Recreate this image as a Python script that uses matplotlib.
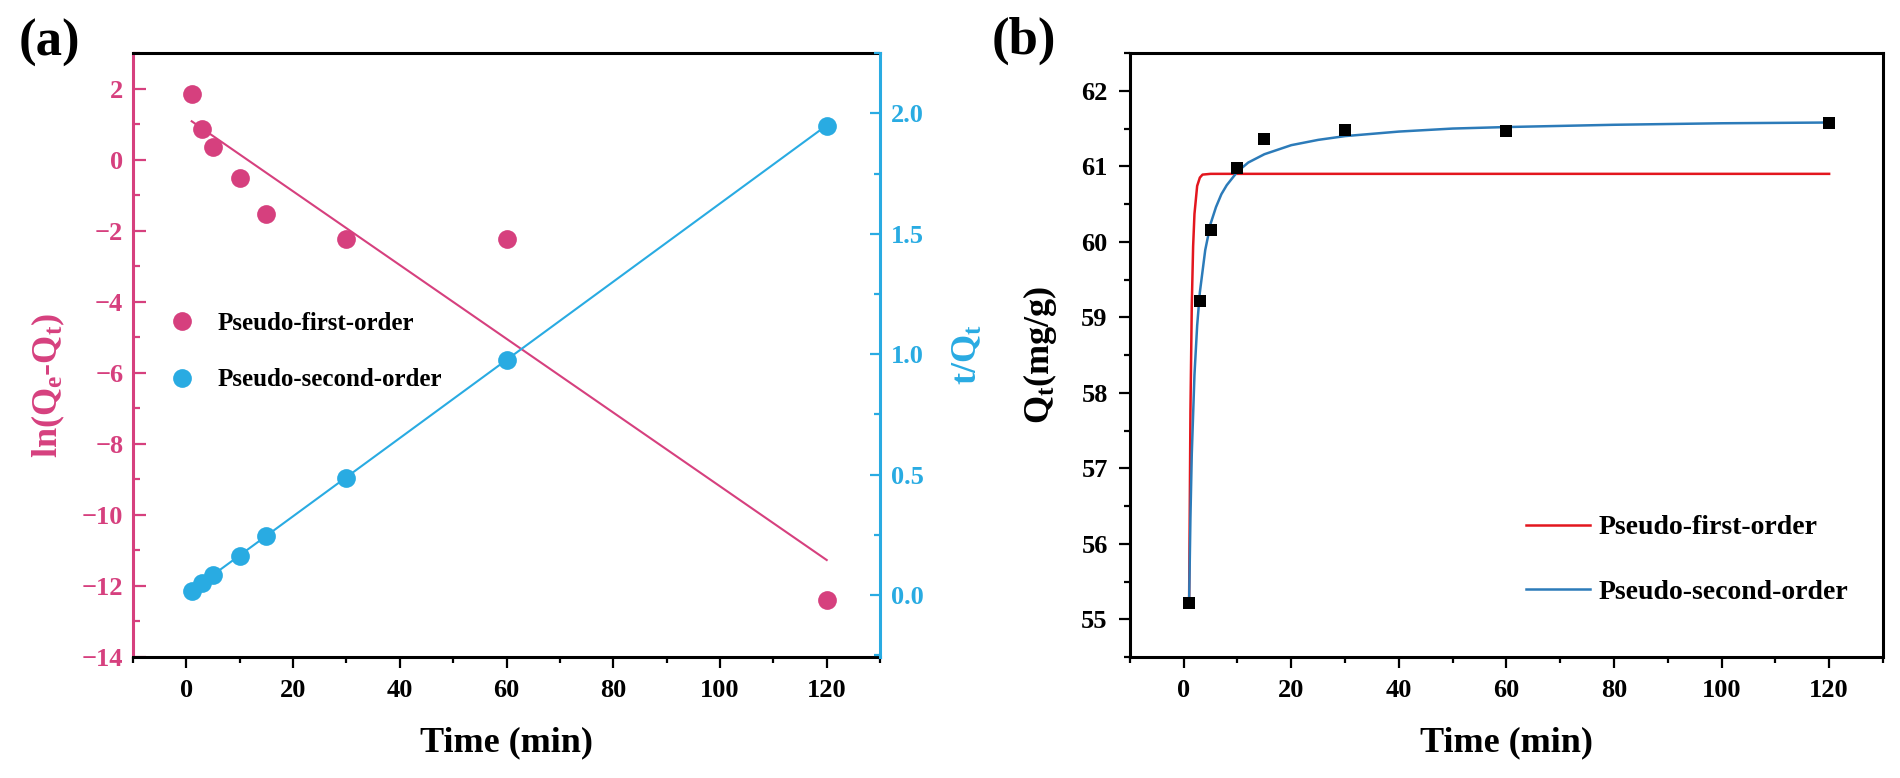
import numpy as np
import matplotlib
matplotlib.use("Agg")
import matplotlib.pyplot as plt
from matplotlib.ticker import MultipleLocator
from matplotlib.lines import Line2D

plt.rcParams['font.family'] = ['Liberation Serif', 'DejaVu Serif']
plt.rcParams['font.weight'] = 'bold'
plt.rcParams['mathtext.fontset'] = 'custom'
plt.rcParams['mathtext.rm'] = 'Liberation Serif:bold'
plt.rcParams['mathtext.it'] = 'Liberation Serif:bold'
plt.rcParams['mathtext.bf'] = 'Liberation Serif:bold'

# sampling times (min)
t = [1, 3, 5, 10, 15, 30, 60, 120]

# (a) linearised kinetics
ln_qe_qt = [1.84, 0.85, 0.35, -0.52, -1.53, -2.22, -2.22, -12.4]
t_over_qt = [0.018, 0.051, 0.083, 0.164, 0.245, 0.488, 0.976, 1.949]
# fitted straight lines, end points
fit1_t = [1, 120]
fit1_y = [1.08, -11.27]
fit2_t = [1, 120]
fit2_y = [0.019, 1.95]

# (b) uptake vs time
qt = [55.22, 59.22, 60.15, 60.98, 61.36, 61.48, 61.47, 61.58]
pfo_t = [1, 1.25, 1.5, 1.75, 2, 2.5, 3, 3.5, 5, 120]
pfo_q = [55.2, 57.75, 59.16, 59.94, 60.37, 60.74, 60.85, 60.89, 60.9, 60.9]
pso_t = [1, 1.25, 1.5, 2, 2.5, 3, 4, 5, 6, 7, 8, 10, 12, 15, 20, 25, 30,
         40, 50, 60, 80, 100, 120]
pso_q = [55.2, 56.35, 57.19, 58.24, 58.89, 59.33, 59.89, 60.24, 60.46, 60.63,
         60.75, 60.93, 61.05, 61.16, 61.28, 61.35, 61.40, 61.46, 61.50, 61.52,
         61.55, 61.57, 61.58]

pink = '#D6407E'
cyan = '#29ABE2'
red = '#E3161E'
steel = '#2C7BB9'

fig = plt.figure(figsize=(19, 7.78), dpi=100)
ax = fig.add_axes([0.0700, 0.1555, 0.3932, 0.7763])
ax_r = ax.twinx()
bx = fig.add_axes([0.5947, 0.1555, 0.3963, 0.7763])

# ---- panel (a)
ax.scatter(t, ln_qe_qt, s=13.5**2, color=pink, zorder=3, linewidths=0)
ax.plot(fit1_t, fit1_y, color=pink, lw=1.5, zorder=2)
ax_r.scatter(t, t_over_qt, s=13.5**2, color=cyan, zorder=3, linewidths=0)
ax_r.plot(fit2_t, fit2_y, color=cyan, lw=1.5, zorder=2)

ax.set_xlim(-10, 130)
ax.set_ylim(-14, 3)
ax_r.set_ylim(-0.257, 2.25)
ax.xaxis.set_major_locator(MultipleLocator(20))
ax.xaxis.set_minor_locator(MultipleLocator(10))
ax.yaxis.set_major_locator(MultipleLocator(2))
ax.yaxis.set_minor_locator(MultipleLocator(1))
ax_r.yaxis.set_major_locator(MultipleLocator(0.5))
ax_r.yaxis.set_minor_locator(MultipleLocator(0.25))
ax.set_xticks([0, 20, 40, 60, 80, 100, 120])

for s in ['top', 'bottom']:
    ax.spines[s].set_linewidth(2.2)
    ax_r.spines[s].set_visible(False)
ax.spines['left'].set_color(pink)
ax.spines['left'].set_linewidth(2.2)
ax.spines['right'].set_visible(False)
ax_r.spines['left'].set_visible(False)
ax_r.spines['right'].set_color(cyan)
ax_r.spines['right'].set_linewidth(2.2)

ax.tick_params(axis='x', which='major', direction='out', length=8, width=1.6,
               labelsize=19, pad=8)
ax.tick_params(axis='x', which='minor', direction='out', length=4, width=1.6)
ax.tick_params(axis='y', which='major', direction='in', length=9, width=1.6,
               color=pink, labelcolor=pink, labelsize=19, pad=7)
ax.tick_params(axis='y', which='minor', direction='in', length=5, width=1.6,
               color=pink)
ax_r.tick_params(axis='y', which='major', direction='in', length=7, width=1.6,
                 color=cyan, labelcolor=cyan, labelsize=19, pad=8)
ax_r.tick_params(axis='y', which='minor', direction='in', length=4, width=1.6,
                 color=cyan)

ax.set_xlabel('Time (min)', fontsize=26, fontweight='bold')
ax.xaxis.set_label_coords(0.5, -0.115)
ax.set_ylabel('ln(Q$_{\\rm e}$-Q$_{\\rm t}$)', fontsize=26, color=pink,
              fontweight='bold')
ax.yaxis.set_label_coords(-0.088, 0.45)
ax_r.set_ylabel('t/Q$_{\\rm t}$', fontsize=26, color=cyan, fontweight='bold')
ax_r.yaxis.set_label_coords(1.096, 0.5)

handles_a = [Line2D([], [], ls='none', marker='o', ms=13.5, mec='none',
                    color=pink),
             Line2D([], [], ls='none', marker='o', ms=13.5, mec='none',
                    color=cyan)]
ax.legend(handles_a, ['Pseudo-first-order', 'Pseudo-second-order'],
          loc='center left', bbox_to_anchor=(0.049, 0.506), frameon=False,
          fontsize=18, handlelength=1.0, handletextpad=0.9, labelspacing=1.35,
          borderpad=0, borderaxespad=0)

# ---- panel (b)
bx.plot(pfo_t, pfo_q, color=red, lw=1.8, zorder=2, label='Pseudo-first-order')
bx.plot(pso_t, pso_q, color=steel, lw=1.8, zorder=2,
        label='Pseudo-second-order')
bx.scatter(t, qt, marker='s', s=9**2, color='black', zorder=3, linewidths=0)

bx.set_xlim(-10, 130)
bx.set_ylim(54.5, 62.5)
bx.xaxis.set_major_locator(MultipleLocator(20))
bx.xaxis.set_minor_locator(MultipleLocator(10))
bx.yaxis.set_major_locator(MultipleLocator(1))
bx.yaxis.set_minor_locator(MultipleLocator(0.5))
bx.set_xticks([0, 20, 40, 60, 80, 100, 120])
for s in bx.spines.values():
    s.set_linewidth(2.2)
bx.tick_params(axis='both', which='major', direction='out', length=8,
               width=1.6, labelsize=19, pad=8)
bx.tick_params(axis='both', which='minor', direction='out', length=4,
               width=1.6)
bx.set_xlabel('Time (min)', fontsize=26, fontweight='bold')
bx.xaxis.set_label_coords(0.5, -0.115)
bx.set_ylabel('Q$_{\\rm t}$(mg/g)', fontsize=26, fontweight='bold')
bx.yaxis.set_label_coords(-0.094, 0.5)
bx.legend(loc='center left', bbox_to_anchor=(0.526, 0.161), frameon=False,
          fontsize=20, handlelength=2.3, handletextpad=0.3, labelspacing=1.4,
          borderpad=0, borderaxespad=0)

fig.text(0.026, 0.945, '(a)', fontsize=38, fontweight='bold',
         ha='center', va='center')
fig.text(0.539, 0.947, '(b)', fontsize=38, fontweight='bold',
         ha='center', va='center')

fig.savefig('out.png', dpi=100)
